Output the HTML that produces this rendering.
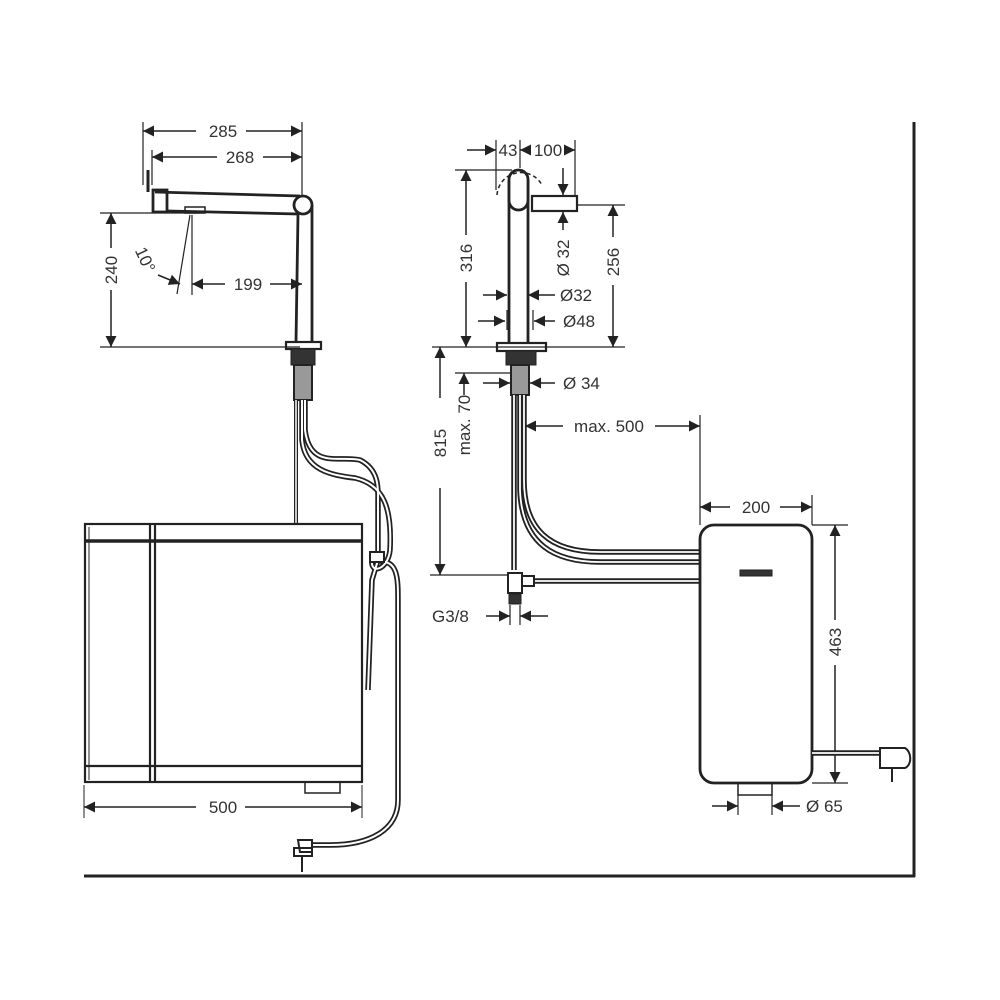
<!DOCTYPE html>
<html><head><meta charset="utf-8"><style>
html,body{margin:0;padding:0;background:#fff;}
svg{display:block}
text{font-family:"Liberation Sans",sans-serif;font-size:17px;fill:#333;}
</style></head><body>
<svg width="1000" height="1000" viewBox="0 0 1000 1000" xmlns="http://www.w3.org/2000/svg">
<defs>
<marker id="a" viewBox="0 0 10 10" refX="10" refY="5" markerWidth="12" markerHeight="11" markerUnits="userSpaceOnUse" orient="auto-start-reverse"><path d="M0,0 L10,5 L0,10z" fill="#222"/></marker>
</defs>
<g fill="none" stroke="#222">
<line x1="914" y1="122" x2="914" y2="877" stroke-width="3"/>
<line x1="84" y1="876" x2="915" y2="876" stroke-width="3"/>

<!-- LEFT FAUCET -->
<g stroke-width="1.2">
<line x1="143" y1="122" x2="143" y2="185"/>
<line x1="302" y1="122" x2="302" y2="195"/>
<line x1="152" y1="150" x2="152" y2="185"/>
<line x1="100" y1="213" x2="200" y2="213"/>
<line x1="100" y1="347" x2="300" y2="347"/>
<line x1="192" y1="215" x2="192" y2="295"/>
<line x1="190" y1="215" x2="177" y2="294"/>
</g>
<g stroke-width="1.5">
<line x1="143" y1="131" x2="196" y2="131" marker-start="url(#a)"/><line x1="246" y1="131" x2="302" y2="131" marker-end="url(#a)"/>
<line x1="152" y1="157" x2="217" y2="157" marker-start="url(#a)"/><line x1="263" y1="157" x2="302" y2="157" marker-end="url(#a)"/>
<line x1="111" y1="213" x2="111" y2="248" marker-start="url(#a)"/><line x1="111" y1="290" x2="111" y2="347" marker-end="url(#a)"/>
<line x1="192" y1="284" x2="225" y2="284" marker-start="url(#a)"/><line x1="270" y1="284" x2="302" y2="284" marker-end="url(#a)"/>
<line x1="158" y1="275" x2="180" y2="284" marker-end="url(#a)"/>
</g>
<g stroke-width="2.8">
<path d="M155,192 L300,196"/>
<path d="M168,211 L298,214 L296,342"/>
<line x1="312" y1="205" x2="312" y2="342"/>
<circle cx="303" cy="205" r="9" fill="#fff"/>
<rect x="153" y="190" width="14" height="22"/>
<rect x="185" y="207" width="20" height="6" stroke-width="1.5"/>
</g>
<line x1="148" y1="170" x2="148" y2="192" stroke-width="3"/>
<rect x="286" y="342" width="35" height="7" stroke-width="2.2"/>
<rect x="291" y="349" width="24" height="16" fill="#333" stroke-width="1"/>
<rect x="294" y="365" width="18" height="35" fill="#999" stroke-width="2"/>
<line x1="296" y1="400" x2="296" y2="524" stroke-width="4"/><line x1="296" y1="400" x2="296" y2="524" stroke="#fff" stroke-width="1.5"/>
<g stroke-width="5.5">
<path d="M305,400 L305,430 C310,470 340,455 360,460 C380,470 378,490 378,500 L378,560"/>
<path d="M302,400 L302,440 C305,470 330,475 355,478 C385,485 392,510 390,550 C388,570 370,575 372,560"/>
<path d="M378,560 L372,580 L368,690"/>
<path d="M380,562 C398,560 398,580 398,600 L398,800 C398,830 370,845 330,845 L310,845"/>
</g>
<g stroke="#fff" stroke-width="2">
<path d="M305,400 L305,430 C310,470 340,455 360,460 C380,470 378,490 378,500 L378,560"/>
<path d="M302,400 L302,440 C305,470 330,475 355,478 C385,485 392,510 390,550 C388,570 370,575 372,560"/>
<path d="M378,560 L372,580 L368,690"/>
<path d="M380,562 C398,560 398,580 398,600 L398,800 C398,830 370,845 330,845 L310,845"/>
</g>
<rect x="370" y="552" width="14" height="10" fill="#fff" stroke-width="2"/>
<path d="M298,840 L312,840 L312,852 L300,852 Z M294,848 L312,848 L312,856 L294,856Z" fill="#fff" stroke-width="2"/>
<line x1="302" y1="856" x2="302" y2="872" stroke-width="2"/>
<rect x="85" y="524" width="277" height="258" stroke-width="2.2" fill="none"/>
<line x1="89" y1="527" x2="89" y2="780" stroke-width="1"/>
<line x1="150" y1="524" x2="150" y2="782" stroke-width="2.2"/>
<line x1="155" y1="524" x2="155" y2="782" stroke-width="2.2"/>
<line x1="85" y1="541" x2="362" y2="541" stroke-width="3.5"/>
<line x1="85" y1="766" x2="362" y2="766" stroke-width="2.2"/>
<rect x="305" y="782" width="35" height="11" stroke-width="1.5"/>
<line x1="84" y1="785" x2="84" y2="818" stroke-width="1"/>
<line x1="362" y1="785" x2="362" y2="818" stroke-width="1"/>
<g stroke-width="1.5">
<line x1="84" y1="807" x2="196" y2="807" marker-start="url(#a)"/><line x1="245" y1="807" x2="362" y2="807" marker-end="url(#a)"/>
</g>

<!-- RIGHT FAUCET -->
<g stroke-width="1.2">
<line x1="496" y1="140" x2="496" y2="190"/>
<line x1="520" y1="140" x2="520" y2="168"/>
<line x1="575" y1="140" x2="575" y2="195"/>
<line x1="455" y1="170" x2="512" y2="170"/>
<line x1="578" y1="205" x2="625" y2="205"/>
<line x1="432" y1="347" x2="625" y2="347"/>
<line x1="455" y1="373" x2="510" y2="373"/>
<line x1="430" y1="575" x2="512" y2="575"/>
<line x1="700" y1="415" x2="700" y2="525"/>
<line x1="812" y1="495" x2="812" y2="525"/>
<line x1="812" y1="525" x2="848" y2="525"/>
<line x1="812" y1="783" x2="848" y2="783"/>
<line x1="507" y1="310" x2="507" y2="330"/><line x1="533" y1="310" x2="533" y2="330"/>
<line x1="510" y1="605" x2="510" y2="625"/><line x1="520" y1="605" x2="520" y2="625"/>
<line x1="738" y1="795" x2="738" y2="815"/><line x1="772" y1="795" x2="772" y2="815"/>
</g>
<g stroke-width="1.5">
<line x1="467" y1="150" x2="496" y2="150" marker-end="url(#a)"/>
<line x1="530" y1="150" x2="520" y2="150" marker-end="url(#a)"/>
<line x1="565" y1="150" x2="575" y2="150" marker-end="url(#a)"/>
<line x1="466" y1="170" x2="466" y2="235" marker-start="url(#a)"/><line x1="466" y1="282" x2="466" y2="347" marker-end="url(#a)"/>
<line x1="613" y1="205" x2="613" y2="237" marker-start="url(#a)"/><line x1="613" y1="285" x2="613" y2="347" marker-end="url(#a)"/>
<line x1="563" y1="168" x2="563" y2="195" marker-end="url(#a)"/><line x1="563" y1="230" x2="563" y2="212" marker-end="url(#a)"/>
<line x1="483" y1="295" x2="507" y2="295" marker-end="url(#a)"/><line x1="555" y1="295" x2="528" y2="295" marker-end="url(#a)"/>
<line x1="478" y1="321" x2="505" y2="321" marker-end="url(#a)"/><line x1="555" y1="321" x2="534" y2="321" marker-end="url(#a)"/>
<line x1="483" y1="383" x2="510" y2="383" marker-end="url(#a)"/><line x1="555" y1="383" x2="530" y2="383" marker-end="url(#a)"/>
<line x1="440" y1="347" x2="440" y2="398" marker-start="url(#a)"/><line x1="440" y1="488" x2="440" y2="575" marker-end="url(#a)"/>
<line x1="464" y1="373" x2="464" y2="395" marker-start="url(#a)"/>
<line x1="525" y1="426" x2="563" y2="426" marker-start="url(#a)"/><line x1="655" y1="426" x2="700" y2="426" marker-end="url(#a)"/>
<line x1="700" y1="507" x2="730" y2="507" marker-start="url(#a)"/><line x1="780" y1="507" x2="812" y2="507" marker-end="url(#a)"/>
<line x1="835" y1="525" x2="835" y2="620" marker-start="url(#a)"/><line x1="835" y1="665" x2="835" y2="783" marker-end="url(#a)"/>
<line x1="486" y1="616" x2="510" y2="616" marker-end="url(#a)"/><line x1="548" y1="616" x2="520" y2="616" marker-end="url(#a)"/>
<line x1="712" y1="806" x2="738" y2="806" marker-end="url(#a)"/><line x1="800" y1="806" x2="772" y2="806" marker-end="url(#a)"/>
</g>
<g stroke-width="2.8">
<line x1="509" y1="180" x2="509" y2="343"/>
<line x1="528" y1="180" x2="528" y2="343"/>
<rect x="509" y="170" width="19" height="40" rx="9.5" fill="#fff"/>
<rect x="532" y="196" width="45" height="15" fill="#fff" stroke-width="2.2"/>
</g>
<path d="M497,195 A24,24 0 0 1 542,185" stroke-width="1.5" stroke-dasharray="4,3"/>
<rect x="497" y="343" width="49" height="8" stroke-width="2.2"/>
<rect x="506" y="351" width="30" height="14" fill="#333" stroke-width="1"/>
<rect x="511" y="365" width="18" height="30" fill="#999" stroke-width="2"/>
<g stroke-width="5.5">
<line x1="514" y1="395" x2="514" y2="570"/>
<path d="M524,395 L524,480 C524,530 550,552 600,552 L700,552"/>
<path d="M520,395 L520,490 C522,545 555,562 600,562 L700,562"/>
<line x1="535" y1="581" x2="700" y2="581"/>
</g>
<g stroke="#fff" stroke-width="1.8">
<line x1="514" y1="395" x2="514" y2="570"/>
<path d="M524,395 L524,480 C524,530 550,552 600,552 L700,552"/>
<path d="M520,395 L520,490 C522,545 555,562 600,562 L700,562"/>
<line x1="535" y1="581" x2="700" y2="581"/>
</g>
<rect x="508" y="573" width="14" height="20" fill="#fff" stroke-width="2"/>
<rect x="522" y="576" width="12" height="10" fill="#fff" stroke-width="2"/>
<rect x="509" y="594" width="12" height="10" fill="#333" stroke-width="1"/>
<rect x="700" y="525" width="112" height="258" rx="14" stroke-width="2.8" fill="#fff"/>
<rect x="740" y="570" width="32" height="6" fill="#333" stroke-width="1"/>
<rect x="738" y="783" width="34" height="12" stroke-width="1.5"/>
<path d="M812,753 L880,753" stroke-width="5.5"/><path d="M812,753 L880,753" stroke="#fff" stroke-width="1.8"/>
<path d="M880,748 L905,748 C912,752 912,765 905,768 L880,768 Z" fill="#fff" stroke-width="2"/>
<line x1="892" y1="768" x2="892" y2="782" stroke-width="2"/>
</g>
<g>
<text x="223" y="137" text-anchor="middle">285</text>
<text x="240" y="163" text-anchor="middle">268</text>
<text x="248" y="290" text-anchor="middle">199</text>
<text x="223" y="813" text-anchor="middle">500</text>
<text transform="translate(117,270) rotate(-90)" text-anchor="middle">240</text>
<text transform="translate(140,262) rotate(65)" text-anchor="middle">10°</text>
<text x="508" y="156" text-anchor="middle">43</text>
<text x="548" y="156" text-anchor="middle">100</text>
<text transform="translate(472,258) rotate(-90)" text-anchor="middle">316</text>
<text transform="translate(619,262) rotate(-90)" text-anchor="middle">256</text>
<text transform="translate(569,258) rotate(-90)" text-anchor="middle">Ø 32</text>
<text x="560" y="301">Ø32</text>
<text x="563" y="327">Ø48</text>
<text x="563" y="389">Ø 34</text>
<text transform="translate(446,443) rotate(-90)" text-anchor="middle">815</text>
<text transform="translate(470,425) rotate(-90)" text-anchor="middle">max. 70</text>
<text x="609" y="432" text-anchor="middle">max. 500</text>
<text x="756" y="513" text-anchor="middle">200</text>
<text transform="translate(841,642) rotate(-90)" text-anchor="middle">463</text>
<text x="432" y="622">G3/8</text>
<text x="806" y="812">Ø 65</text>
</g>
</svg>
</body></html>
